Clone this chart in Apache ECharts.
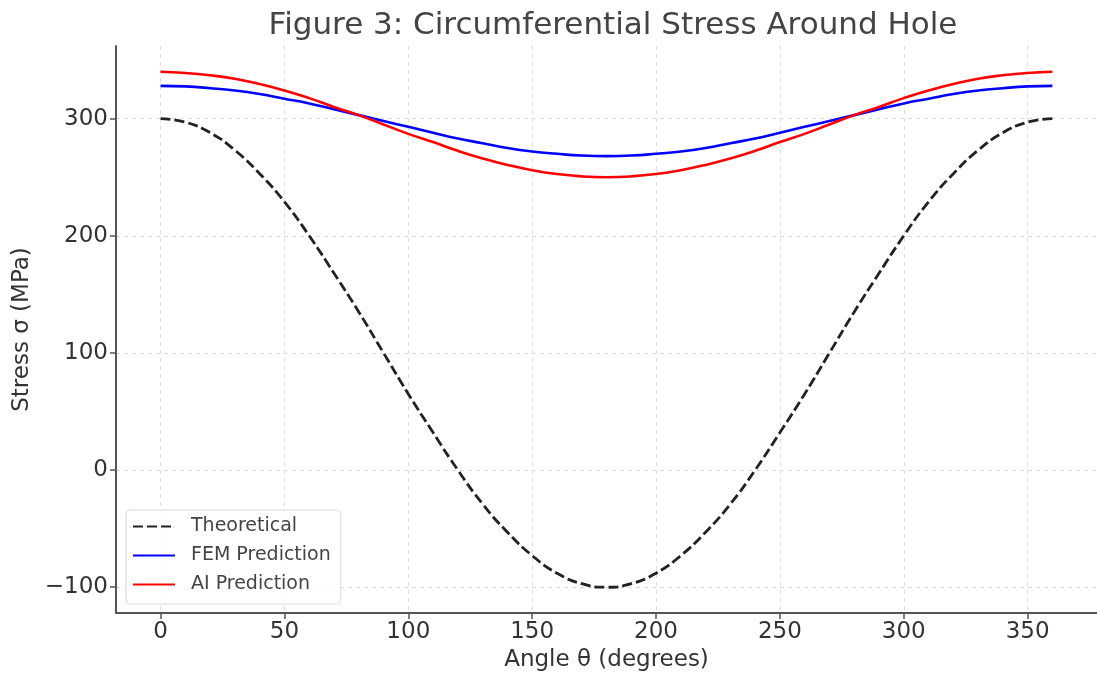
<!DOCTYPE html>
<html>
<head>
<meta charset="utf-8">
<title>Figure 3</title>
<script src="https://cdn.jsdelivr.net/npm/echarts@6/dist/echarts.min.js"></script>
<style>
  html, body { margin: 0; padding: 0; background: #fff; }
  #chart { width: 1097px; height: 680px; }
</style>
</head>
<body>
<div id="chart"></div>
<script>
// angle in degrees, every 10
var angles = [0, 10, 20, 30, 40, 50, 60, 70, 80, 90, 100, 110, 120, 130, 140, 150, 160, 170, 180,
    190, 200, 210, 220, 230, 240, 250, 260, 270, 280, 290, 300, 310, 320, 330, 340, 350, 360];

// values (MPa)
var theoretical = [300, 297, 288, 273, 253, 229, 200, 168, 135, 100, 65, 32, 0, -29, -53, -73, -88, -97, -100,
    -97, -88, -73, -53, -29, 0, 32, 65, 100, 135, 168, 200, 229, 253, 273, 288, 297, 300];
var fem = [328, 327.5, 326, 324, 321, 317, 313, 308, 303, 298, 293, 288, 283, 279, 275, 272, 270, 268.5, 268,
    268.5, 270, 272, 275, 279, 283, 288, 293, 298, 303, 308, 313, 317, 321, 324, 326, 327.5, 328];
var ai = [340, 339, 337, 334, 329.5, 324, 317.5, 310, 303, 295, 287, 280, 272.5, 266, 260.5, 256, 252.7, 250.7, 250,
    250.7, 252.7, 256, 260.5, 266, 272.5, 280, 287, 295, 303, 310, 317.5, 324, 329.5, 334, 337, 339, 340];

var xTicks = [0, 50, 100, 150, 200, 250, 300, 350];
var yTicks = [-100, 0, 100, 200, 300];

function pairs(ys) {
    return angles.map(function (a, i) { return [a, ys[i]]; });
}

var font = 'DejaVu Sans';
var axisColor = '#555';
var gridLine = { show: true, lineStyle: { color: '#dcdcdc', type: [4, 4], width: 1 } };

var myChart = echarts.init(document.getElementById('chart'));
myChart.setOption({
    animation: false,
    textStyle: { fontFamily: font },
    title: {
        text: 'Figure 3: Circumferential Stress Around Hole',
        left: 608, top: 5, textAlign: 'center',
        textStyle: { fontFamily: font, fontSize: 31, fontWeight: 'normal', color: '#444' }
    },
    grid: { left: 116, top: 46, width: 989, height: 567, containLabel: false },
    xAxis: {
        type: 'value', min: -18, max: 378,
        name: 'Angle θ (degrees)', nameLocation: 'middle', nameGap: 34,
        nameTextStyle: { fontFamily: font, fontSize: 23, color: '#333' },
        axisLine: { show: true, onZero: false, lineStyle: { color: axisColor, width: 2 } },
        axisTick: { show: true, customValues: xTicks, length: 6, lineStyle: { color: axisColor, width: 1.5 } },
        axisLabel: { customValues: xTicks, fontFamily: font, fontSize: 23, color: '#333', margin: 8 },
        splitLine: gridLine
    },
    yAxis: {
        type: 'value', min: -122, max: 362,
        name: 'Stress σ (MPa)', nameLocation: 'middle', nameGap: 81, nameRotate: 90,
        nameTextStyle: { fontFamily: font, fontSize: 23, color: '#333' },
        axisLine: { show: true, onZero: false, lineStyle: { color: axisColor, width: 2 } },
        axisTick: { show: true, customValues: yTicks, length: 6, lineStyle: { color: axisColor, width: 1.5 } },
        axisLabel: {
            customValues: yTicks, fontFamily: font, fontSize: 23, color: '#333', margin: 8,
            formatter: function (v) { return String(v).replace('-', '\u2212'); }
        },
        splitLine: gridLine
    },
    legend: {
        orient: 'vertical', left: 126, top: 510,
        padding: [7, 10, 10, 6],
        itemWidth: 42, itemHeight: 14, itemGap: 10,
        backgroundColor: 'rgba(255,255,255,0.85)',
        borderColor: '#d8d8d8', borderWidth: 1, borderRadius: 4,
        itemStyle: { opacity: 0 },
        textStyle: { fontFamily: font, fontSize: 19, color: '#444', padding: [0, 0, 0, 11] },
        data: ['Theoretical', 'FEM Prediction', 'AI Prediction']
    },
    series: [
        {
            name: 'Theoretical', type: 'line', data: pairs(theoretical), smooth: true,
            showSymbol: false, symbol: 'none',
            lineStyle: { color: '#222', width: 2.8, type: [10, 4] },
            itemStyle: { color: '#222' }
        },
        {
            name: 'FEM Prediction', type: 'line', data: pairs(fem), smooth: true,
            showSymbol: false, symbol: 'none',
            lineStyle: { color: '#0000ff', width: 2.6 },
            itemStyle: { color: '#0000ff' }
        },
        {
            name: 'AI Prediction', type: 'line', data: pairs(ai), smooth: true,
            showSymbol: false, symbol: 'none',
            lineStyle: { color: '#ff0000', width: 2.6 },
            itemStyle: { color: '#ff0000' }
        }
    ]
});
</script>
</body>
</html>
